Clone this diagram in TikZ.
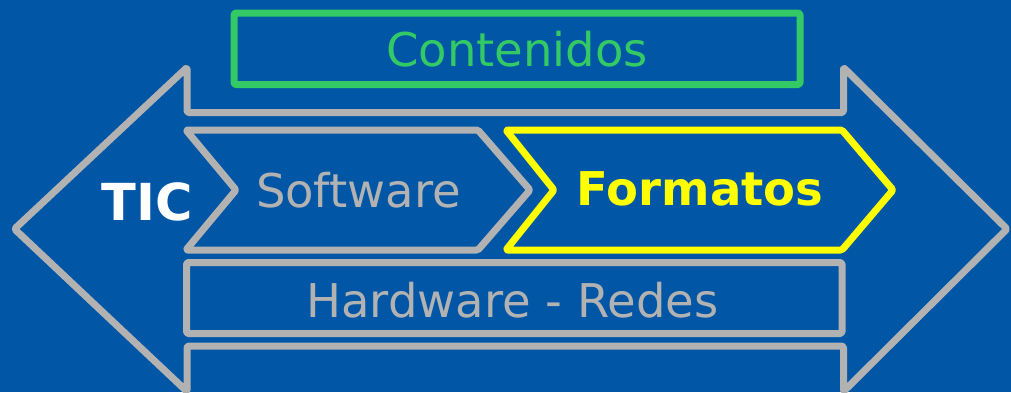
\documentclass[tikz,border=0pt]{standalone}
\usepackage{fontspec}
\setmainfont{DejaVu Sans}
\definecolor{bgblue}{HTML}{0156A5}
\definecolor{outgray}{HTML}{B2B2B2}
\definecolor{boxgreen}{HTML}{33CA66}
\definecolor{boxyellow}{HTML}{FFFF00}
\tikzset{
  outline/.style={line width=7pt, line join=round, rounded corners=1.5pt},
  lbl/.style={anchor=base, inner sep=0pt, font=\fontsize{46.5}{50}\selectfont},
  lblbold/.style={anchor=base, inner sep=0pt, font=\fontsize{46.5}{50}\selectfont\bfseries},
}
\begin{document}
\begin{tikzpicture}[x=1pt, y=-1pt]
\fill[bgblue] (0,0) rectangle (1011,392);
\useasboundingbox (0,0) rectangle (1011,392);
% big double arrow
\draw[outline, draw=outgray]
  (14.5,229) -- (187,67.5) -- (187,112.5) -- (843.5,112.5) -- (843.5,67.5) -- (1007,229)
  -- (843.5,391.5) -- (843.5,346) -- (187,346) -- (187,391.5) -- cycle;
% Contenidos box
\draw[outline, draw=boxgreen] (234,13) rectangle (800,84.5);
\node[lbl, text=boxgreen] (cont) at (517,66.5) {Contenidos};
% Software chevron
\draw[outline, draw=outgray]
  (186,130) -- (478,130) -- (530,190) -- (478,250) -- (186,250) -- (236,190) -- cycle;
\node[lbl, text=outgray] (soft) at (358.5,207) {Software};
% Formatos chevron
\draw[outline, draw=boxyellow]
  (506,130) -- (842,130) -- (893,190) -- (842,250) -- (506,250) -- (554,190) -- cycle;
\node[lblbold, text=boxyellow] (form) at (700,205.5) {Formatos};
% Hardware box
\draw[outline, draw=outgray] (186.5,262.5) rectangle (842,333.5);
\node[lbl, text=outgray] (hard) at (512.5,317) {Hardware - Redes};
% TIC
\node[anchor=base, inner sep=0pt, font=\fontsize{51}{55}\selectfont\bfseries, text=white] (tic) at (147.5,220) {TIC};
\end{tikzpicture}
\end{document}
